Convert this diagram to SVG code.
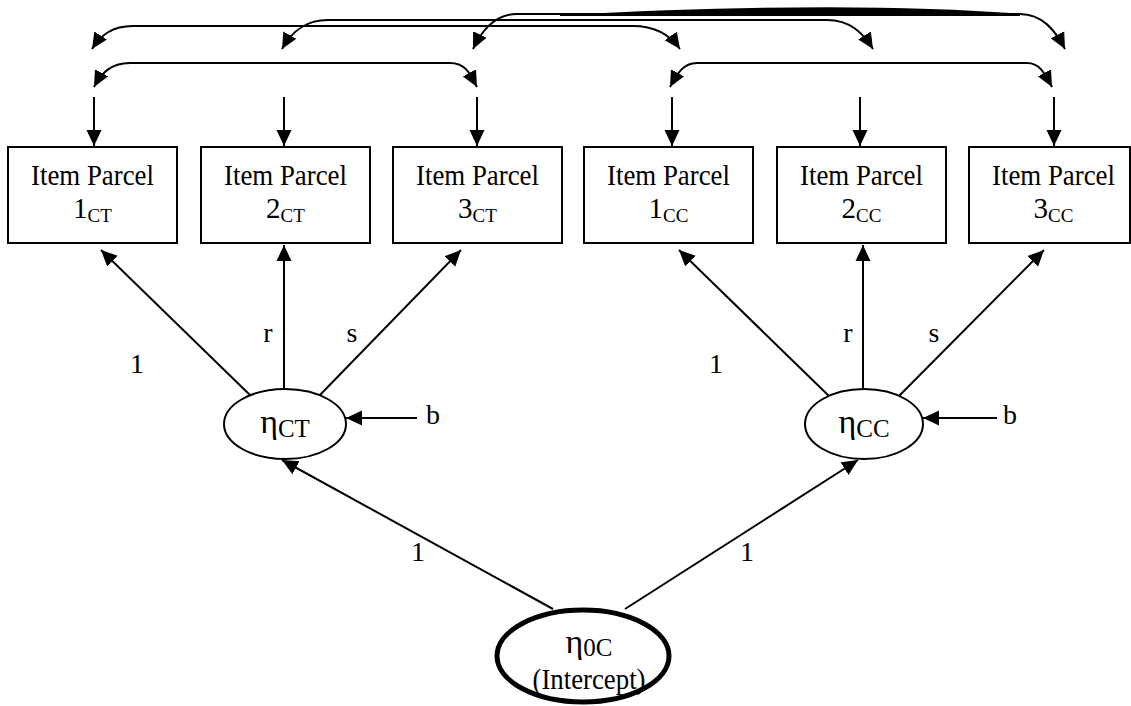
<svg xmlns="http://www.w3.org/2000/svg" width="1131" height="706" viewBox="0 0 1131 706">
<style>
text{font-family:"Liberation Serif","Times New Roman",serif;fill:#000}
.box{fill:#fff;stroke:#000;stroke-width:2}
.t{font-size:29px;text-anchor:middle}
.lbl{font-size:28px;text-anchor:middle}
.sub{font-size:19px}
.eta{font-size:34px;text-anchor:middle}
.esub{font-size:25px}
.ln{fill:none;stroke:#000;stroke-width:2}
.lat{fill:#fff;stroke:#000;stroke-width:2}
</style>
<defs>
<marker id="ah" markerUnits="userSpaceOnUse" markerWidth="17" markerHeight="16" refX="16" refY="8" orient="auto-start-reverse" viewBox="0 0 17 16">
<path d="M0,0.5 L16,8 L0,15.5 Z" fill="#000"/>
</marker>
</defs>
<rect width="1131" height="706" fill="#fff"/>

<g id="connectors">
<path class="ln" marker-start="url(#ah)" marker-end="url(#ah)" d="M92,49 C101,35 112,26 133,26 L633,26 C654,26 670,35 680,49"/>
<path class="ln" marker-start="url(#ah)" marker-end="url(#ah)" d="M282,49 C291,33 304,20 328,20 L827,20 C850,20 863,33 873,49"/>
<path class="ln" marker-start="url(#ah)" marker-end="url(#ah)" d="M473,49 C482,30 495,14 517,14 L1020,14 C1042,14 1055,30 1065,49"/>
<path d="M560,15 Q850,0 1020,14 L1020,16 L560,16 Z" fill="#000"/>
<path class="ln" marker-start="url(#ah)" marker-end="url(#ah)" d="M94,87 C101,74 110,63 130,63 L450,63 C466,63 470,74 477,87"/>
<path class="ln" marker-start="url(#ah)" marker-end="url(#ah)" d="M670,87 C677,74 683,63 697,63 L1027,63 C1040,63 1045,74 1052,87"/>
<path class="ln" marker-end="url(#ah)" d="M94,97 L94,146"/>
<path class="ln" marker-end="url(#ah)" d="M284,97 L284,146"/>
<path class="ln" marker-end="url(#ah)" d="M477,97 L477,146"/>
<path class="ln" marker-end="url(#ah)" d="M672,97 L672,146"/>
<path class="ln" marker-end="url(#ah)" d="M860,97 L860,146"/>
<path class="ln" marker-end="url(#ah)" d="M1054,97 L1054,146"/>
<path class="ln" marker-end="url(#ah)" d="M251,396 L101,250"/>
<path class="ln" marker-end="url(#ah)" d="M284,389 L284,245"/>
<path class="ln" marker-end="url(#ah)" d="M319,396 L461,250"/>
<path class="ln" marker-end="url(#ah)" d="M829,396 L679,250"/>
<path class="ln" marker-end="url(#ah)" d="M863,389 L863,245"/>
<path class="ln" marker-end="url(#ah)" d="M899,396 L1044,250"/>
<path class="ln" marker-end="url(#ah)" d="M417,418 L346,418"/>
<path class="ln" marker-end="url(#ah)" d="M997,418 L923,418"/>
<path class="ln" marker-end="url(#ah)" d="M553,609 L282,460"/>
<path class="ln" marker-end="url(#ah)" d="M625,609 L858,460"/>
<text class="lbl" x="137" y="373">1</text>
<text class="lbl" x="268" y="342">r</text>
<text class="lbl" x="352" y="342">s</text>
<text class="lbl" x="716" y="373">1</text>
<text class="lbl" x="848" y="342">r</text>
<text class="lbl" x="934" y="342">s</text>
<text class="lbl" x="433" y="424">b</text>
<text class="lbl" x="1010" y="424">b</text>
<text class="lbl" x="418" y="561">1</text>
<text class="lbl" x="747" y="561">1</text>
</g>

<g id="box1CT"><rect class="box" x="8" y="147" width="169" height="96"/><text class="t" x="92.5" y="185" textLength="123" lengthAdjust="spacingAndGlyphs">Item Parcel</text><text class="t" x="92.5" y="218">1<tspan class="sub" dy="4">CT</tspan></text></g>
<g id="box2CT"><rect class="box" x="201" y="147" width="169" height="96"/><text class="t" x="285.5" y="185" textLength="123" lengthAdjust="spacingAndGlyphs">Item Parcel</text><text class="t" x="285.5" y="218">2<tspan class="sub" dy="4">CT</tspan></text></g>
<g id="box3CT"><rect class="box" x="393" y="147" width="169" height="96"/><text class="t" x="477.5" y="185" textLength="123" lengthAdjust="spacingAndGlyphs">Item Parcel</text><text class="t" x="477.5" y="218">3<tspan class="sub" dy="4">CT</tspan></text></g>
<g id="box1CC"><rect class="box" x="584" y="147" width="169" height="96"/><text class="t" x="668.5" y="185" textLength="123" lengthAdjust="spacingAndGlyphs">Item Parcel</text><text class="t" x="668.5" y="218">1<tspan class="sub" dy="4">CC</tspan></text></g>
<g id="box2CC"><rect class="box" x="777" y="147" width="169" height="96"/><text class="t" x="861.5" y="185" textLength="123" lengthAdjust="spacingAndGlyphs">Item Parcel</text><text class="t" x="861.5" y="218">2<tspan class="sub" dy="4">CC</tspan></text></g>
<g id="box3CC"><rect class="box" x="969" y="147" width="161" height="96"/><text class="t" x="1053.5" y="185" textLength="123" lengthAdjust="spacingAndGlyphs">Item Parcel</text><text class="t" x="1053.5" y="218">3<tspan class="sub" dy="4">CC</tspan></text></g>

<g id="etaCT"><ellipse class="lat" cx="285" cy="424" rx="61" ry="35"/><text class="eta" x="285" y="433">η<tspan class="esub" dy="4">CT</tspan></text></g>
<g id="etaCC"><ellipse class="lat" cx="864" cy="424" rx="59" ry="35"/><text class="eta" x="864" y="433">η<tspan class="esub" dy="4">CC</tspan></text></g>
<g id="eta0C"><ellipse cx="583" cy="656" rx="86" ry="46" fill="#fff" stroke="#000" stroke-width="5"/><text class="eta" x="589" y="653">η<tspan class="esub" dy="3">0C</tspan></text><text class="t" x="589" y="689" textLength="113" lengthAdjust="spacingAndGlyphs">(Intercept)</text></g>
</svg>
